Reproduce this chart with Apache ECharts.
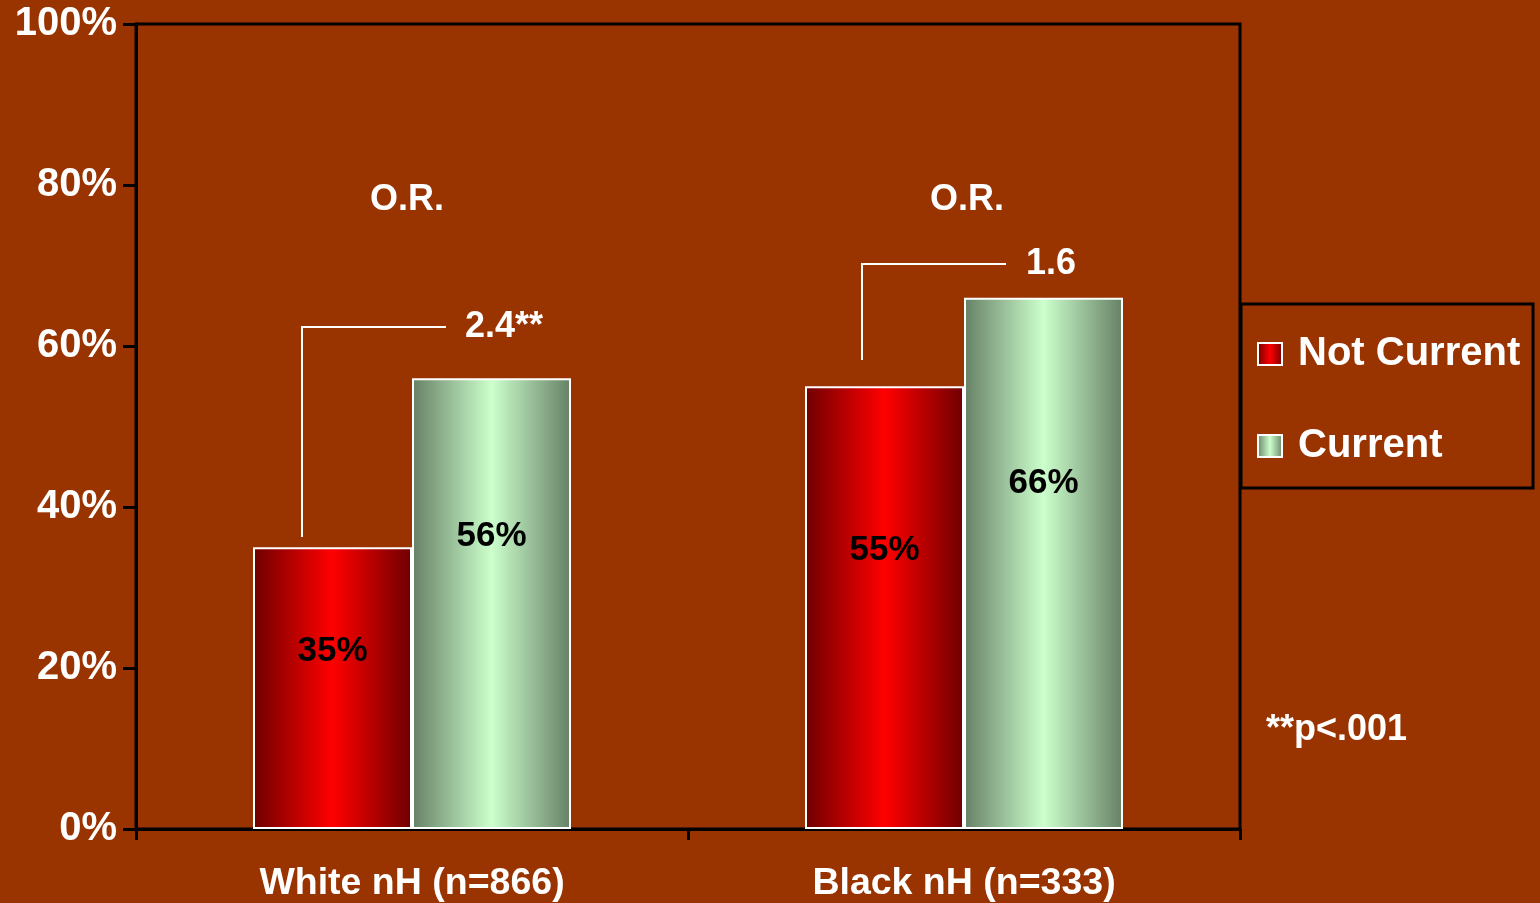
<!DOCTYPE html>
<html>
<head>
<meta charset="utf-8">
<script src="https://cdn.jsdelivr.net/npm/echarts@6/dist/echarts.min.js"></script>
<style>
html,body{margin:0;padding:0;background:#993300;}
#chart{width:1540px;height:903px;}
</style>
</head>
<body>
<div id="chart"></div>
<script>
const categories = ['White nH (n=866)', 'Black nH (n=333)'];
const notCurrent = [35, 55];
const current = [56, 66];
const yTicks = [0, 20, 40, 60, 80, 100];
const oddsRatios = ['2.4**', '1.6'];

const FONT = '"Liberation Sans", Arial, sans-serif';
const chart = echarts.init(document.getElementById('chart'));

function grad(edge, mid) {
  return new echarts.graphic.LinearGradient(0, 0, 1, 0, [
    {offset: 0, color: edge}, {offset: 0.5, color: mid}, {offset: 1, color: edge}
  ]);
}

function labelCfg(frac) {
  return {
    show: true, position: ['50%', frac], align: 'center', verticalAlign: 'middle',
    formatter: '{c}%', color: '#000', fontSize: 35, fontWeight: 'bold', fontFamily: FONT
  };
}

const white = '#ffffff';

chart.setOption({
  backgroundColor: '#993300',
  animation: false,
  grid: {left: 136, top: 24, right: 300, bottom: 74, show: true, borderColor: '#000', borderWidth: 3},
  legend: {
    orient: 'vertical', left: 1257, top: 334, padding: 0, itemGap: 52,
    itemWidth: 24, itemHeight: 22, icon: 'rect',
    textStyle: {color: white, fontSize: 40, fontWeight: 'bold', fontFamily: FONT, padding: [0, 0, 0, 11]},
    data: ['Not Current', 'Current']
  },
  xAxis: {
    type: 'category', data: categories,
    axisLine: {lineStyle: {color: '#000', width: 3}},
    axisTick: {show: true, length: 11, lineStyle: {color: '#000', width: 3}},
    axisLabel: {color: white, fontSize: 37.5, fontWeight: 'bold', fontFamily: FONT, margin: 36}
  },
  yAxis: {
    type: 'value', min: yTicks[0], max: yTicks[yTicks.length - 1], interval: 20,
    axisLine: {show: true, lineStyle: {color: '#000', width: 3}},
    axisTick: {show: true, length: 13, lineStyle: {color: '#000', width: 3}},
    splitLine: {show: false},
    axisLabel: {formatter: '{value}%', color: white, fontSize: 40, fontWeight: 'bold', fontFamily: FONT,
                margin: 19, padding: [10, 0, 0, 0]}
  },
  series: [
    {name: 'Not Current', type: 'bar', data: notCurrent, barWidth: 159, barGap: '0%',
     itemStyle: {color: grad('#6e0000', '#ff0000'), borderColor: white, borderWidth: 2},
     label: labelCfg('37%')},
    {name: 'Current', type: 'bar', data: current, barWidth: 159,
     itemStyle: {color: grad('#668066', '#ccffcc'), borderColor: white, borderWidth: 2},
     label: labelCfg('35%')}
  ],
  graphic: [
    {type: 'rect', shape: {x: 1241, y: 304, width: 292, height: 184}, style: {fill: 'none', stroke: '#000', lineWidth: 3}},
    {type: 'polyline', shape: {points: [[302, 537], [302, 327], [446, 327]]}, style: {stroke: white, lineWidth: 2, fill: 'none'}},
    {type: 'polyline', shape: {points: [[862, 360], [862, 264], [1006, 264]]}, style: {stroke: white, lineWidth: 2, fill: 'none'}},
    {type: 'text', x: 407, y: 200, style: {text: 'O.R.', fill: white, font: 'bold 36px ' + FONT, align: 'center', verticalAlign: 'middle'}},
    {type: 'text', x: 967, y: 200, style: {text: 'O.R.', fill: white, font: 'bold 36px ' + FONT, align: 'center', verticalAlign: 'middle'}},
    {type: 'text', x: 465, y: 327, style: {text: oddsRatios[0], fill: white, font: 'bold 36px ' + FONT, align: 'left', verticalAlign: 'middle'}},
    {type: 'text', x: 1026, y: 264, style: {text: oddsRatios[1], fill: white, font: 'bold 36px ' + FONT, align: 'left', verticalAlign: 'middle'}},
    {type: 'text', x: 1266, y: 730, style: {text: '**p<.001', fill: white, font: 'bold 36px ' + FONT, align: 'left', verticalAlign: 'middle'}}
  ]
});
</script>
</body>
</html>
